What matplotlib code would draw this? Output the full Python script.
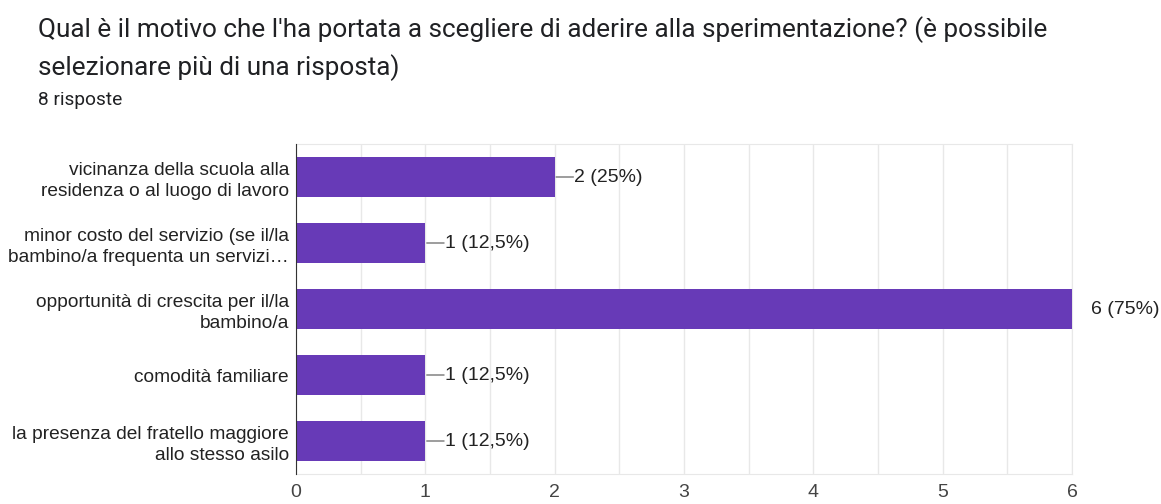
import matplotlib.pyplot as plt
import numpy as np

plt.rcParams['font.family'] = ['Liberation Sans', 'DejaVu Sans']

categories = [
    "vicinanza della scuola alla\nresidenza o al luogo di lavoro",
    "minor costo del servizio (se il/la\nbambino/a frequenta un servizi\u2026",
    "opportunit\u00e0 di crescita per il/la\nbambino/a",
    "comodit\u00e0 familiare",
    "la presenza del fratello maggiore\nallo stesso asilo",
]
counts = [2, 1, 6, 1, 1]
labels = ["2 (25%)", "1 (12,5%)", "6 (75%)", "1 (12,5%)", "1 (12,5%)"]
ticks = [0, 1, 2, 3, 4, 5, 6]

PURPLE = '#673ab7'
GRID = '#e8e8e8'
HEAD = ['Roboto', 'DejaVu Sans']

fig = plt.figure(figsize=(11.61, 5.04), dpi=100)
ax = fig.add_axes([296 / 1161, 1 - 474 / 504, (1072 - 296) / 1161, 330 / 504])

y = np.arange(len(categories))
ax.barh(y, counts, height=0.606, color=PURPLE, zorder=3)

ax.set_xlim(0, 6)
ax.set_ylim(len(categories) - 0.5, -0.5)
ax.set_xticks(ticks)
ax.set_xticks(np.arange(0.5, 6, 1), minor=True)
ax.set_xticklabels([str(t) for t in ticks], fontsize=14, color='#444444')
ax.set_yticks(y)
ax.set_yticklabels(categories, fontsize=13.75, color='#222222', linespacing=1.28)
ax.tick_params(which='both', length=0)
ax.tick_params(axis='y', pad=5)
ax.tick_params(axis='x', pad=7)

ax.grid(axis='x', which='both', color=GRID, linewidth=1, zorder=0)
for side in ['top', 'right', 'bottom']:
    ax.spines[side].set_color(GRID)
ax.spines['left'].set_color('#333333')
ax.spines['left'].set_zorder(4)

# value labels; shorter bars get a small leader line
for yi, c, lab in zip(y, counts, labels):
    if c < max(counts):
        ax.annotate('', xy=(c, yi), xytext=(13.5, 0), textcoords='offset points',
                    arrowprops=dict(arrowstyle='-', color='#666666', lw=0.9,
                                    shrinkA=0, shrinkB=1),
                    annotation_clip=False)
    ax.annotate(lab, xy=(c, yi), xytext=(14, 0), textcoords='offset points',
                va='center', ha='left', fontsize=14, color='#222222',
                annotation_clip=False)

fig.text(38 / 1161, 1 - 30 / 504,
         "Qual \u00e8 il motivo che l'ha portata a scegliere di aderire alla sperimentazione? (\u00e8 possibile",
         fontsize=18.8, color='#202124', va='center', ha='left', family=HEAD)
fig.text(38 / 1161, 1 - 68 / 504, "selezionare pi\u00f9 di una risposta)",
         fontsize=18.8, color='#202124', va='center', ha='left', family=HEAD)
fig.text(38 / 1161, 1 - 100 / 504, "8 risposte",
         fontsize=13.8, color='#202124', va='center', ha='left', family=HEAD)

fig.savefig('out.png', dpi=100, facecolor='white')
